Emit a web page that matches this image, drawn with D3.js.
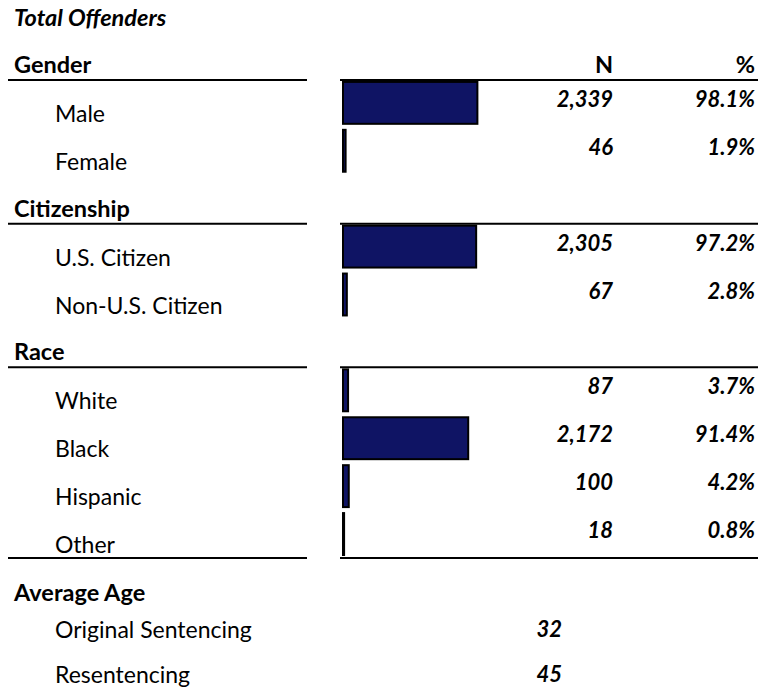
<!DOCTYPE html>
<html>
<head>
<meta charset="utf-8">
<script src="https://cdn.jsdelivr.net/npm/d3@7"></script>
<style>
  body { margin: 0; background: #fff; }
  text { font-family: Lato, 'Open Sans', sans-serif; fill: #000; }
</style>
</head>
<body>
<div id="chart"></div>
<script>
// data
var title = 'Total Offenders'
var groups = ['Gender', 'Citizenship', 'Race']
var groupOf = ['Gender', 'Gender', 'Citizenship', 'Citizenship', 'Race', 'Race', 'Race', 'Race']
var categories = ['Male', 'Female', 'U.S. Citizen', 'Non-U.S. Citizen', 'White', 'Black', 'Hispanic', 'Other']
var counts = [2339, 46, 2305, 67, 87, 2172, 100, 18]
var percents = [98.1, 1.9, 97.2, 2.8, 3.7, 91.4, 4.2, 0.8]
var ageLabels = ['Original Sentencing', 'Resentencing']
var ageValues = [32, 45]

var width = 758, height = 699
var fsTitle = 23.5, fsHead = 23.5, fsRow = 23, fsVal = 22

var svg = d3.select('#chart').append('svg')
  .attr('width', width).attr('height', height)

// build rows: a header row for each group, then its categories
var rows = []
groups.forEach(g => {
  rows.push({type: 'head', label: g})
  categories.forEach((c, i) => {
    if (groupOf[i] == g) rows.push({type: 'cat', label: c, n: counts[i], pct: percents[i]})
  })
})

var y = d3.scaleBand().domain(d3.range(rows.length)).range([32, 559])
var x = d3.scaleLinear().domain([0, 100]).range([343, 480])

var fmtN = d3.format(',')
var fmtP = d => d3.format('.1f')(d) + '%'

svg.append('text')
  .attr('x', 14).attr('y', 26)
  .style('font-size', fsTitle + 'px').style('font-weight', 'bold').style('font-style', 'italic')
  .text(title)

var rowSel = svg.selectAll('g.row').data(rows).join('g')
  .attr('class', 'row')
  .attr('transform', (d, i) => `translate(0,${y(i)})`)

var heads = rowSel.filter(d => d.type == 'head')
heads.append('text')
  .attr('x', 14).attr('y', 41)
  .style('font-size', fsHead + 'px').style('font-weight', 'bold')
  .text(d => d.label)

heads.append('line')
  .attr('x1', 8).attr('x2', 307).attr('y1', y.bandwidth()).attr('y2', y.bandwidth())
  .attr('stroke', '#000').attr('stroke-width', 2)
heads.append('line')
  .attr('x1', 340).attr('x2', 758).attr('y1', y.bandwidth()).attr('y2', y.bandwidth())
  .attr('stroke', '#000').attr('stroke-width', 2)

// column heads only on the first group
heads.filter((d, i) => i == 0).selectAll('text.col')
  .data([{t: 'N', x: 613}, {t: '%', x: 755}])
  .join('text')
  .attr('class', 'col')
  .attr('x', d => d.x).attr('y', 41)
  .attr('text-anchor', 'end')
  .style('font-size', fsHead + 'px').style('font-weight', 'bold')
  .text(d => d.t)

var cats = rowSel.filter(d => d.type == 'cat')
cats.append('rect')
  .attr('x', x(0))
  .attr('y', 2)
  .attr('width', d => Math.max(x(d.pct) - x(0), 1))
  .attr('height', y.bandwidth() - 6)
  .attr('fill', '#0f1464')
  .attr('stroke', '#000')
  .attr('stroke-width', 2)

cats.append('text')
  .attr('x', 55).attr('y', 42)
  .style('font-size', fsRow + 'px')
  .text(d => d.label)

cats.append('text')
  .attr('x', 613).attr('y', 27)
  .attr('text-anchor', 'end')
  .style('font-size', fsVal + 'px').style('font-weight', 'bold').style('font-style', 'italic')
  .text(d => fmtN(d.n))

cats.append('text')
  .attr('x', 755).attr('y', 27)
  .attr('text-anchor', 'end')
  .style('font-size', fsVal + 'px').style('font-weight', 'bold').style('font-style', 'italic')
  .text(d => fmtP(d.pct))

// bottom rule
var bottom = y.range()[1] - 1
svg.selectAll('line.bottom').data([[8, 307], [340, 758]]).join('line')
  .attr('class', 'bottom')
  .attr('x1', d => d[0]).attr('x2', d => d[1])
  .attr('y1', bottom).attr('y2', bottom)
  .attr('stroke', '#000').attr('stroke-width', 2)

// average age
svg.append('text')
  .attr('x', 14).attr('y', 601)
  .style('font-size', fsHead + 'px').style('font-weight', 'bold')
  .text('Average Age')

var ageY = d3.scaleBand().domain(d3.range(ageLabels.length)).range([606, 696])

var ageSel = svg.selectAll('g.age').data(ageLabels).join('g')
  .attr('class', 'age')
  .attr('transform', (d, i) => `translate(0,${ageY(i)})`)

ageSel.append('text')
  .attr('x', 55).attr('y', 32)
  .style('font-size', fsRow + 'px')
  .text(d => d)

ageSel.append('text')
  .attr('x', 562).attr('y', 31)
  .attr('text-anchor', 'end')
  .style('font-size', fsVal + 'px').style('font-weight', 'bold').style('font-style', 'italic')
  .text((d, i) => ageValues[i])
</script>
</body>
</html>
